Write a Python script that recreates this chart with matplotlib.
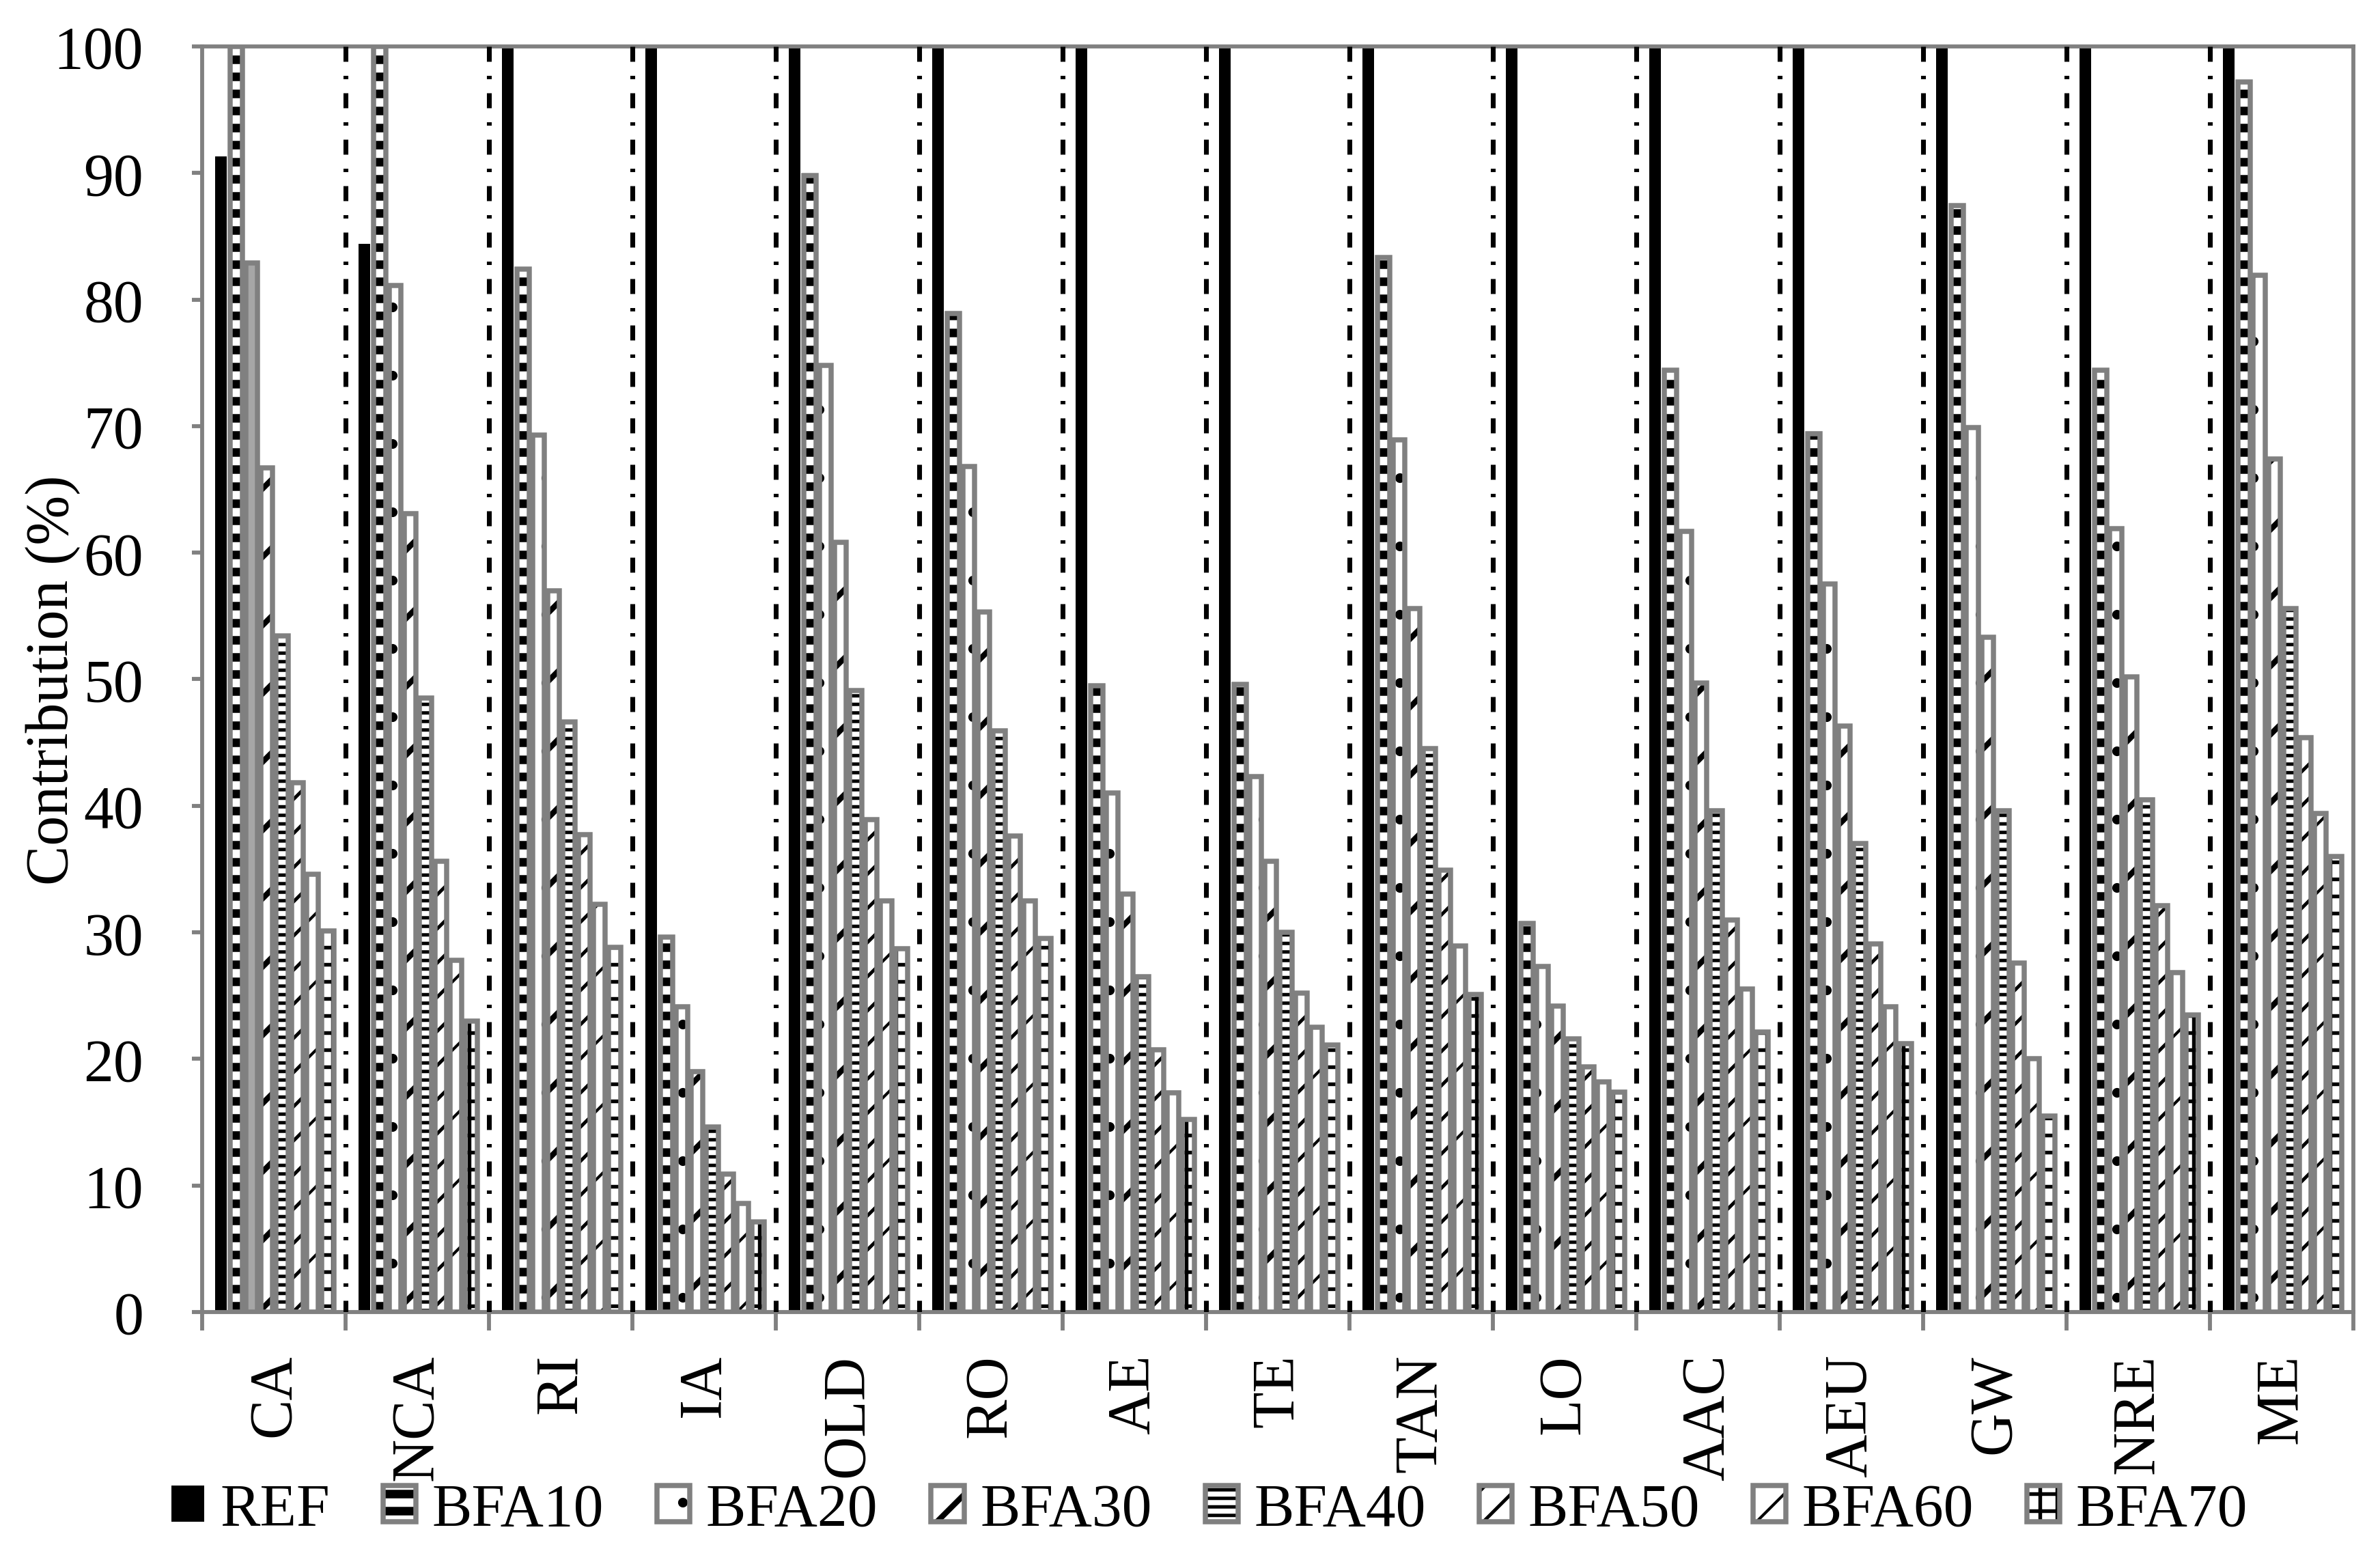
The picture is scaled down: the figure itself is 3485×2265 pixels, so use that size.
import matplotlib
matplotlib.use("Agg")
import matplotlib.pyplot as plt
from matplotlib.patches import Patch, Rectangle
from matplotlib.legend_handler import HandlerPatch
import numpy as np

categories = ['CA', 'NCA', 'RI', 'IA', 'OLD', 'RO', 'AE', 'TE', 'TAN', 'LO',
              'AAC', 'AEU', 'GW', 'NRE', 'ME']
series = ['REF', 'BFA10', 'BFA20', 'BFA30', 'BFA40', 'BFA50', 'BFA60', 'BFA70']

ref = [91.3, 84.4, 100, 100, 100, 100, 100, 100, 100, 100, 100, 100, 100, 100, 100]
bfa10 = [100, 100, 82.4, 29.6, 89.8, 78.9, 49.5, 49.6, 83.3, 30.7, 74.4, 69.4, 87.4, 74.4, 97.2]
bfa20 = [82.9, 81.1, 69.3, 24.1, 74.8, 66.8, 41.0, 42.3, 68.9, 27.3, 61.7, 57.5, 69.9, 61.9, 81.9]
bfa30 = [66.7, 63.1, 57.0, 19.0, 60.8, 55.3, 33.0, 35.6, 55.6, 24.2, 49.7, 46.3, 53.3, 50.2, 67.4]
bfa40 = [53.4, 48.5, 46.6, 14.6, 49.1, 45.9, 26.5, 30.0, 44.5, 21.6, 39.6, 37.0, 39.6, 40.5, 55.6]
bfa50 = [41.8, 35.6, 37.7, 10.9, 38.9, 37.6, 20.7, 25.2, 34.9, 19.4, 31.0, 29.1, 27.6, 32.1, 45.4]
bfa60 = [34.6, 27.8, 32.2, 8.6, 32.5, 32.5, 17.3, 22.5, 28.9, 18.2, 25.5, 24.1, 20.0, 26.8, 39.4]
bfa70 = [30.1, 23.0, 28.8, 7.1, 28.7, 29.5, 15.2, 21.1, 25.1, 17.4, 22.1, 21.2, 15.5, 23.5, 36.0]

values = [ref, bfa10, bfa20, bfa30, bfa40, bfa50, bfa60, bfa70]

# hatch look per series (REF is solid black)
hatches = [None, '--', '.', '/', '----', '//', '/', '++']
hatch_lw = [1.0, 3.0, 1.0, 2.0, 1.2, 1.2, 1.0, 1.3]

plt.rcParams['font.family'] = ['Liberation Serif', 'DejaVu Serif']
plt.rcParams['font.size'] = 21
GRAY = '#808080'


def legend_patch(legend, orig_handle, xdescent, ydescent, width, height, fontsize):
    p = Rectangle((-xdescent, -ydescent), width, height)
    p.set_hatch_linewidth(getattr(orig_handle, 'hlw', 1.0))
    return p


class HatchHandler(HandlerPatch):
    def update_prop(self, legend_handle, orig_handle, legend):
        super().update_prop(legend_handle, orig_handle, legend)
        legend_handle.set_hatch_linewidth(getattr(orig_handle, 'hlw', 1.0))


fig = plt.figure(figsize=(11.62, 7.5533), dpi=300)
ax = fig.add_axes([0.0849, 0.1518, 0.9036, 0.8178])

n = len(categories)
x = np.arange(n)
pitch = 0.1065
width = 0.083
start = 0.5 + 0.004 - 3.5 * pitch

legend_handles = []
for k, name in enumerate(series):
    xs = x + start + k * pitch
    if hatches[k] is None:
        ax.bar(xs, values[k], width=width + 0.002, color='black',
               edgecolor='black', linewidth=0, zorder=2)
        legend_handles.append(Patch(facecolor='black', edgecolor='black', linewidth=0))
        continue
    hb = ax.bar(xs, values[k], width=width, color='white', edgecolor='black',
                linewidth=0, hatch=hatches[k], zorder=2)
    for b in hb:
        b.set_hatch_linewidth(hatch_lw[k])
    ax.bar(xs, values[k], width=width, fill=False, edgecolor=GRAY,
           linewidth=1.8, zorder=3)
    if name == 'BFA20':
        hb[0].set_facecolor('#a6a6a6')
        hb[0].set_hatch(None)
    hp = Patch(facecolor='white', edgecolor='black', linewidth=0, hatch=hatches[k])
    hp.set_hatch_linewidth(hatch_lw[k])
    hp.hlw = hatch_lw[k]
    op = Patch(fill=False, edgecolor=GRAY, linewidth=1.8)
    legend_handles.append((hp, op))

# dash-dot separators between groups
for b in range(1, n):
    ax.plot([b, b], [100, 0], color='black', linewidth=1.7,
            linestyle=(0, (3.1, 2.9, 0.7, 2.9)), zorder=5)

ax.set_xlim(0, n)
ax.set_ylim(0, 100)
ax.set_yticks(np.arange(0, 101, 10))
ax.set_xticks(np.arange(0, n + 1))
ax.set_xticklabels([])
ax.set_xticks(x + 0.5, minor=True)
ax.set_xticklabels(categories, minor=True, rotation=90)

ax.tick_params(axis='y', direction='out', length=3.6, width=1.4, color=GRAY,
               pad=17, labelsize=21)
ax.tick_params(axis='x', which='major', direction='out', length=6.5, width=1.4,
               color=GRAY)
ax.tick_params(axis='x', which='minor', length=0, pad=14.6, labelsize=21)

for s in ax.spines.values():
    s.set_color(GRAY)
    s.set_linewidth(1.4)

fig.text(78 / 3486, 1 - 996 / 2266, 'Contribution (%)', rotation=90,
         ha='center', va='center', fontsize=21)

fig.legend(legend_handles, series, loc='center', bbox_to_anchor=(0.508, 0.024),
           ncol=8, frameon=False, fontsize=21, handlelength=0.55, handleheight=0.55,
           handletextpad=0.27, columnspacing=0.89, borderpad=0,
           handler_map={Patch: HatchHandler(patch_func=legend_patch)})

fig.savefig('out.png', dpi=300)
